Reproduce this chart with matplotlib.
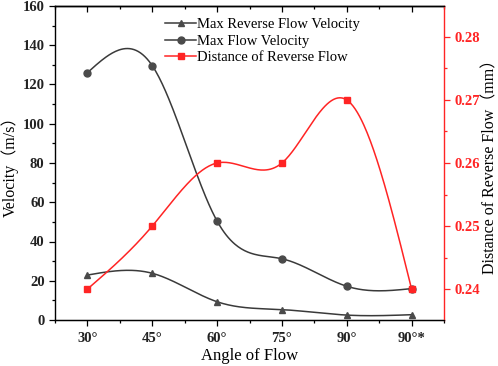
import numpy as np
import matplotlib
matplotlib.use("Agg")
import matplotlib.pyplot as plt
from matplotlib.ticker import MultipleLocator, FixedLocator, NullFormatter
from matplotlib.lines import Line2D

categories = ["30°", "45°", "60°", "75°", "90°", "90°*"]
max_reverse = [22.9, 23.8, 9.3, 5.3, 2.5, 2.7]
max_flow = [126.0, 129.6, 50.4, 31.2, 17.2, 16.0]
distance = [0.24, 0.25, 0.26, 0.26, 0.27, 0.24]


def natural_spline(x, y, n=300):
    x = np.asarray(x, float)
    y = np.asarray(y, float)
    m = len(x)
    h = np.diff(x)
    A = np.zeros((m, m))
    b = np.zeros(m)
    A[0, 0] = 1
    A[-1, -1] = 1
    for i in range(1, m - 1):
        A[i, i - 1] = h[i - 1]
        A[i, i] = 2 * (h[i - 1] + h[i])
        A[i, i + 1] = h[i]
        b[i] = 3 * ((y[i + 1] - y[i]) / h[i] - (y[i] - y[i - 1]) / h[i - 1])
    c = np.linalg.solve(A, b)
    xs = np.linspace(x[0], x[-1], n)
    ys = np.empty_like(xs)
    for k, xv in enumerate(xs):
        i = min(np.searchsorted(x, xv, side="right") - 1, m - 2)
        dx = xv - x[i]
        bi = (y[i + 1] - y[i]) / h[i] - h[i] * (2 * c[i] + c[i + 1]) / 3
        di = (c[i + 1] - c[i]) / (3 * h[i])
        ys[k] = y[i] + bi * dx + c[i] * dx ** 2 + di * dx ** 3
    return xs, ys


serif = ["Liberation Serif", "Noto Sans CJK SC"]
plt.rcParams["font.family"] = serif

dark = "#3a3a3a"
mk = "#4a4a4a"
red = "#ff2424"

fig = plt.figure(figsize=(4.98, 3.66), dpi=100)
ax = fig.add_axes([55 / 498, 1 - 320 / 366, 389 / 498, 314 / 366])
ax2 = ax.twinx()

x = np.arange(len(categories))

xs, ys = natural_spline(x, max_reverse)
ax.plot(xs, ys, color=dark, lw=1.1)
ax.plot(x, max_reverse, ls="none", marker="^", color=mk, ms=5)
xs, ys = natural_spline(x, max_flow)
ax.plot(xs, ys, color=dark, lw=1.1)
ax.plot(x, max_flow, ls="none", marker="o", color=mk, ms=5)
xs, ys = natural_spline(x, distance)
ax2.plot(xs, ys, color=red, lw=1.1)
ax2.plot(x, distance, ls="none", marker="s", color=red, ms=4.5)

ax.set_xlim(-0.5, 5.5)
ax.set_ylim(0, 160)
ax2.set_ylim(0.2351, 0.2849)

ax.set_xticks(x)
ax.set_xticklabels(categories)
ax.xaxis.set_minor_locator(FixedLocator(np.arange(-0.5, 6, 1.0)))
ax.yaxis.set_major_locator(MultipleLocator(20))
ax.yaxis.set_minor_locator(MultipleLocator(10))
ax2.yaxis.set_major_locator(FixedLocator([0.24, 0.25, 0.26, 0.27, 0.28]))
ax2.yaxis.set_minor_locator(FixedLocator([0.245, 0.255, 0.265, 0.275]))
ax2.set_yticklabels(["0.24", "0.25", "0.26", "0.27", "0.28"])

for lab in ax.get_xticklabels() + ax.get_yticklabels():
    lab.set_fontweight("bold")
    lab.set_fontsize(10.5)
    lab.set_color("#222222")
for lab in ax2.get_yticklabels():
    lab.set_fontweight("bold")
    lab.set_fontsize(10.5)
    lab.set_color(red)

ax.tick_params(axis="x", which="major", direction="out", length=4, width=0.9, pad=5)
ax.tick_params(axis="x", which="minor", direction="out", length=2.5, width=0.9)
ax.tick_params(axis="y", which="major", direction="out", length=4, width=0.9)
ax.tick_params(axis="y", which="minor", direction="out", length=2.5, width=0.9)
ax2.tick_params(axis="y", which="major", direction="out", length=4, colors=red, width=0.9)
ax2.tick_params(axis="y", which="minor", direction="out", length=2.5, colors=red, width=0.9)

# top axis with inward ticks, no labels
top = ax.secondary_xaxis("top")
top.set_xticks(x)
top.xaxis.set_minor_locator(FixedLocator(np.arange(-0.5, 6, 1.0)))
top.xaxis.set_major_formatter(NullFormatter())
top.tick_params(axis="x", which="major", direction="in", length=4, width=0.9)
top.tick_params(axis="x", which="minor", direction="in", length=2.5, width=0.9)
top.spines["top"].set_linewidth(1.0)

for s in ["left", "bottom", "top"]:
    ax.spines[s].set_linewidth(1.0)
ax2.spines["right"].set_color(red)
ax2.spines["right"].set_linewidth(1.0)
ax2.spines["left"].set_visible(False)
ax.spines["right"].set_visible(False)

ax.set_xlabel("Angle of Flow", fontsize=12, labelpad=2)
ax.set_ylabel("Velocity（m/s）", fontsize=11.5, labelpad=3)
ax2.set_ylabel("Distance of Reverse Flow（mm）", fontsize=11.5, rotation=90, labelpad=2)

handles = [
    Line2D([], [], color=dark, lw=1.1, marker="^", ms=5, markerfacecolor=mk, markeredgecolor=mk),
    Line2D([], [], color=dark, lw=1.1, marker="o", ms=5, markerfacecolor=mk, markeredgecolor=mk),
    Line2D([], [], color=red, lw=1.1, marker="s", ms=4.5),
]
labels = ["Max Reverse Flow Velocity", "Max Flow Velocity", "Distance of Reverse Flow"]
ax.legend(handles, labels, loc="upper left", bbox_to_anchor=(0.265, 0.985), frameon=False,
          fontsize=10.5, handlelength=2.1, handletextpad=0.1, labelspacing=0.22,
          borderaxespad=0.2, borderpad=0.3)

fig.savefig("out.png", dpi=100)
